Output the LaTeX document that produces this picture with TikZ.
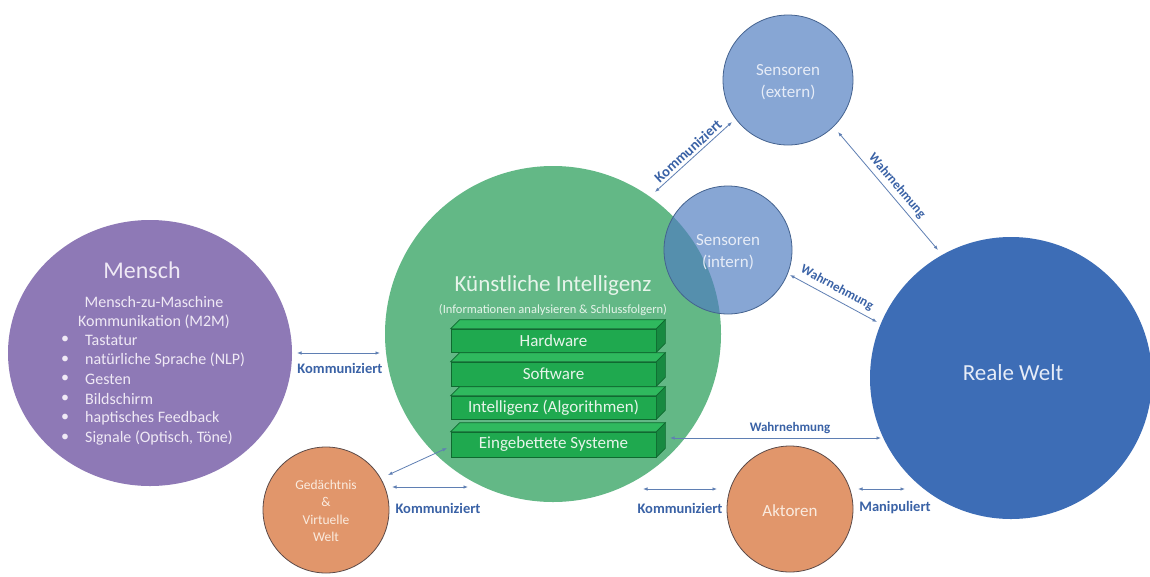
\documentclass[tikz,border=0pt]{standalone}
\usepackage{fontspec}
\setmainfont{Carlito}
\usetikzlibrary{arrows.meta,shapes.geometric}
\definecolor{purp}{HTML}{8E79B6}
\definecolor{kigreen}{HTML}{63B886}
\definecolor{boxgreen}{HTML}{1FA94F}
\definecolor{boxtop}{HTML}{2FB95E}
\definecolor{boxside}{HTML}{178A41}
\definecolor{boxedge}{HTML}{0F6A30}
\definecolor{realblue}{HTML}{3D6DB6}
\definecolor{sensblue}{HTML}{4F7CC0}
\definecolor{sensedge}{HTML}{44628F}
\definecolor{orng}{HTML}{E1966B}
\definecolor{orngedge}{HTML}{5C4A48}
\definecolor{lblc}{HTML}{3A62A6}
\definecolor{arrc}{HTML}{5F7FB3}
\definecolor{txtp}{HTML}{EFE9F5}
\definecolor{txtg}{HTML}{E6F4EA}
\definecolor{txtb}{HTML}{E6ECF7}
\definecolor{txto}{HTML}{FAEBDF}
\tikzset{
  bubble/.style={circle, inner sep=0pt, minimum size=#1},
  sensor/.style={bubble=#1, fill=sensblue, fill opacity=0.68, draw=sensedge, line width=0.8pt},
  orb/.style={bubble=#1, fill=orng, draw=orngedge, line width=0.8pt},
  slab/.style={rectangle, inner sep=0pt, minimum width=205pt, fill=boxgreen, draw=boxedge, line width=0.7pt, text=txtg, font=\fontsize{17}{20}\selectfont},
  lbl/.style={text=lblc, inner sep=0pt, font=\bfseries\fontsize{14.5}{17}\selectfont},
  wlbl/.style={text=lblc, inner sep=0pt, font=\bfseries\fontsize{13}{15}\selectfont},
  arr/.style={draw=arrc, line width=0.8pt, {Latex[length=4.5pt,width=3.5pt]}-{Latex[length=4.5pt,width=3.5pt]}},
  mtext/.style={text=txtp, inner sep=0pt, font=\fontsize{16}{19}\selectfont},
  bul/.style={text=txtp, inner sep=0pt, font=\fontsize{16}{19}\selectfont},
}
\newcommand{\slabfaces}[1]{%
  \filldraw[fill=boxtop, draw=boxedge, line width=0.7pt] (#1.north west) -- ([shift={(9,-9)}]#1.north west) -- ([shift={(9,-9)}]#1.north east) -- (#1.north east) -- cycle;
  \filldraw[fill=boxside, draw=boxedge, line width=0.7pt] (#1.north east) -- ([shift={(9,-9)}]#1.north east) -- ([shift={(9,-9)}]#1.south east) -- (#1.south east) -- cycle;
}
\begin{document}
\begin{tikzpicture}[x=1pt,y=-1pt]
\useasboundingbox (0,0) rectangle (1150,576);
\fill[white] (0,0) rectangle (1150,576);

% big circles
\node[ellipse, inner sep=0pt, minimum width=284pt, minimum height=266pt, fill=purp] (mensch) at (150,353) {};
\node[bubble=336pt, fill=kigreen] (ki) at (553,334) {};
\node[bubble=282pt, fill=realblue] (reale) at (1011,378) {};
\node[orb=126pt] (ged) at (326,510) {};
\node[orb=126pt] (akt) at (790,509) {};
\node[sensor=130pt] (sext) at (788,80) {};
\node[sensor=128pt] (sint) at (728,250) {};

% Mensch text
\node[text=txtp, inner sep=0pt, font=\fontsize{24}{28}\selectfont] (mtitle) at (142,270) {Mensch};
\node[mtext] (m1) at (154,302) {Mensch-zu-Maschine};
\node[mtext] (m2) at (154,322) {Kommunikation (M2M)};
\foreach \i/\t/\yy in {1/Tastatur/340, 2/natürliche Sprache (NLP)/360, 3/Gesten/379, 4/Bildschirm/399, 5/haptisches Feedback/418, 6/{Signale (Optisch, Töne)}/438}{
  \node[bul] (b\i) at (65,\yy) {•};
  \node[bul, anchor=west] (l\i) at (85,\yy) {\t};
}

% KI text
\node[text=txtg, inner sep=0pt, font=\fontsize{23}{27}\selectfont] (kititle) at (553,285) {Künstliche Intelligenz};
\node[text=txtg, inner sep=0pt, font=\fontsize{12.5}{15}\selectfont] (kisub) at (553,310) {(Informationen analysieren \& Schlussfolgern)};

% slabs
\node[slab, minimum height=23pt] (hw) at (553.5,340.5) {Hardware};
\slabfaces{hw}
\node[slab, minimum height=24pt] (sw) at (553.5,374) {Software};
\slabfaces{sw}
\node[slab, minimum height=23pt] (alg) at (553.5,407.5) {Intelligenz (Algorithmen)};
\slabfaces{alg}
\node[slab, minimum height=25pt] (emb) at (553.5,444.5) {Eingebettete Systeme};
\slabfaces{emb}

% sensor texts
\node[text=txtb, inner sep=0pt, font=\fontsize{17}{20}\selectfont] (se1) at (788,70) {Sensoren};
\node[text=txtb, inner sep=0pt, font=\fontsize{17}{20}\selectfont] (se2) at (788,92) {(extern)};
\node[text=txtb, inner sep=0pt, font=\fontsize{17}{20}\selectfont] (si1) at (728,240) {Sensoren};
\node[text=txtb, inner sep=0pt, font=\fontsize{17}{20}\selectfont] (si2) at (728,262) {(intern)};

\node[text=txtb, inner sep=0pt, font=\fontsize{23}{27}\selectfont] (rtext) at (1013,373) {Reale Welt};

\node[text=txto, inner sep=0pt, font=\fontsize{13.5}{16}\selectfont] (g1) at (326,485) {Gedächtnis};
\node[text=txto, inner sep=0pt, font=\fontsize{13.5}{16}\selectfont] (g2) at (326,502) {\&};
\node[text=txto, inner sep=0pt, font=\fontsize{13.5}{16}\selectfont] (g3) at (326,520) {Virtuelle};
\node[text=txto, inner sep=0pt, font=\fontsize{13.5}{16}\selectfont] (g4) at (326,537) {Welt};
\node[text=txto, inner sep=0pt, font=\fontsize{17}{20}\selectfont] (atext) at (790,511) {Aktoren};

% connector end points
\coordinate (a1) at (297,353); \coordinate (a2) at (380,353);
\coordinate (b1) at (655,192); \coordinate (b2) at (732,122);
\coordinate (c1) at (838,132); \coordinate (c2) at (938,250);
\coordinate (d1) at (790,275); \coordinate (d2) at (877,322);
\coordinate (e1) at (670,438); \coordinate (e2) at (881,438);
\coordinate (f1) at (447,448); \coordinate (f2) at (388,475);
\coordinate (g1a) at (392,487); \coordinate (g2a) at (468,487);
\coordinate (h1) at (643,489); \coordinate (h2) at (717,489);
\coordinate (i1) at (858,489); \coordinate (i2) at (905,489);

\draw[arr] (a1) -- (a2);
\draw[arr] (b1) -- (b2);
\draw[arr] (c1) -- (c2);
\draw[arr] (d1) -- (d2);
\draw[arr] (e1) -- (e2);
\draw[arr] (f1) -- (f2);
\draw[arr] (g1a) -- (g2a);
\draw[arr] (h1) -- (h2);
\draw[arr] (i1) -- (i2);

% labels
\node[lbl] (k1) at (340,368) {Kommuniziert};
\node[lbl, rotate=42.3] (k2) at (688,151) {Kommuniziert};
\node[wlbl, rotate=-49.7] (w1) at (897,186) {Wahrnehmung};
\node[wlbl, rotate=-28.4] (w2) at (837,288) {Wahrnehmung};
\node[wlbl] (w3) at (790,428) {Wahrnehmung};
\node[lbl] (k3) at (438,508) {Kommuniziert};
\node[lbl] (k4) at (680,508) {Kommuniziert};
\node[lbl] (mp) at (895,508) {Manipuliert};
\end{tikzpicture}
\end{document}
